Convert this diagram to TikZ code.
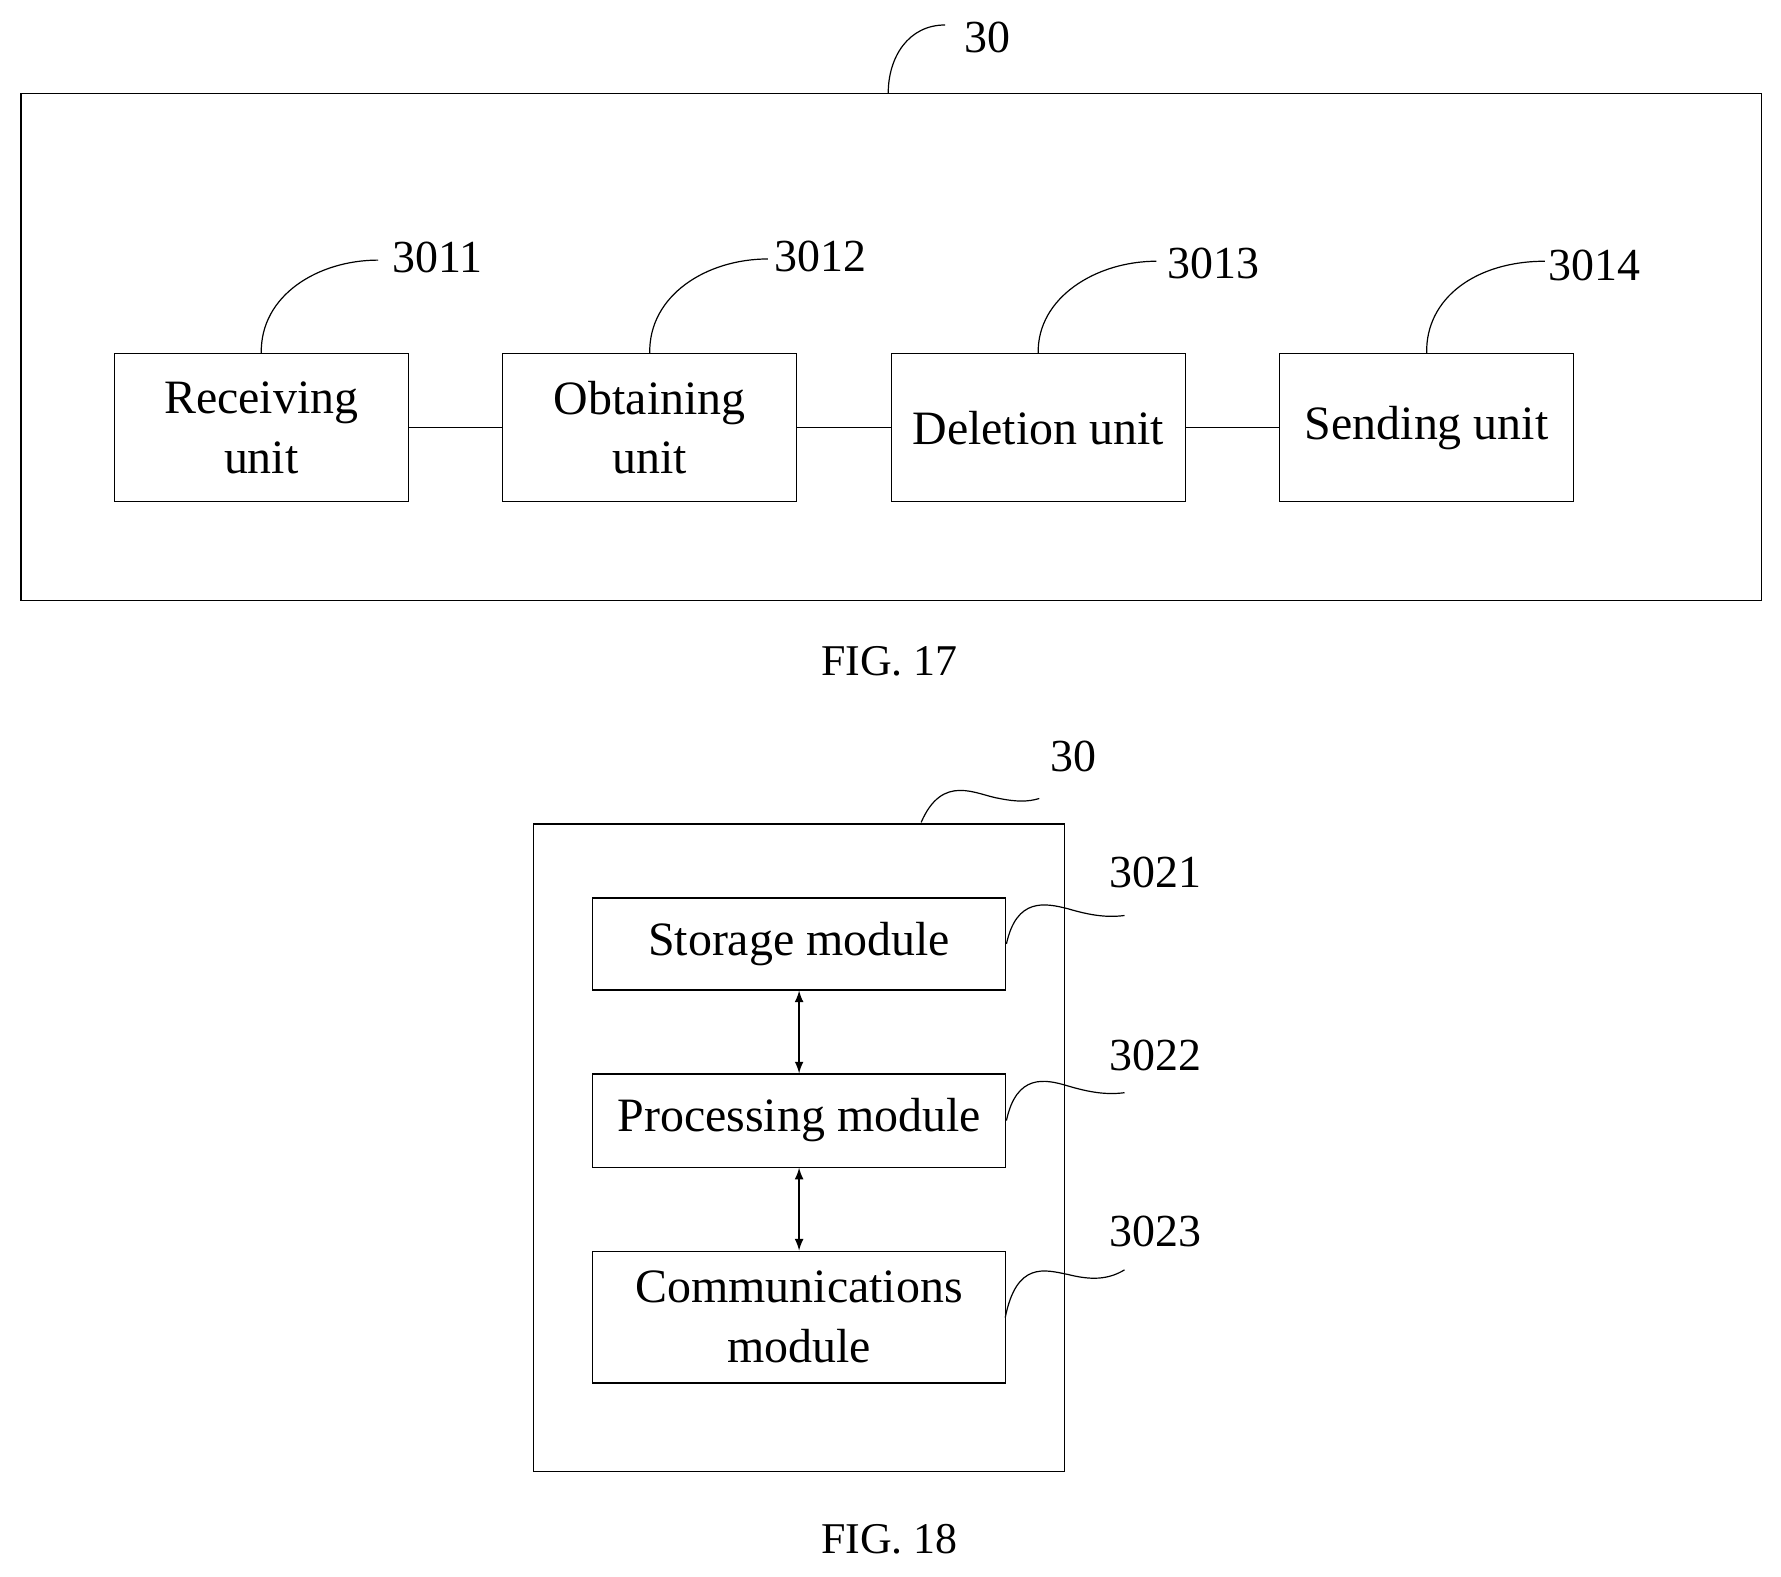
\documentclass[tikz,border=0pt]{standalone}
\usepackage{fontspec}
\setmainfont{Liberation Serif}
\begin{document}
\begin{tikzpicture}[x=0.02cm,y=-0.02cm,line width=0.6pt,
  box/.style={draw,anchor=north west,inner sep=0pt,align=center,font=\fontsize{24}{30}\selectfont},
  lab/.style={font=\fontsize{23}{28}\selectfont},
  figcap/.style={font=\fontsize{22}{26}\selectfont}]
\useasboundingbox (0,0) rectangle (1568,1388);
% FIG 17
\node[box,minimum width=1532*0.02cm,minimum height=446*0.02cm] (outer) at (18,82) {};
\node[lab] (l30) at (869,33) {30};
\coordinate (c30) at (832,22);
\draw (782,82) .. controls (782,50) and (800,22) .. (c30);
\foreach \n/\x/\t in {a/100/{Receiving\\unit}, b/442/{Obtaining\\unit}, c/784/{Deletion unit}, d/1126/{Sending unit}}{
  \node[box,minimum width=259*0.02cm,minimum height=130*0.02cm] (\n) at (\x,311) {};
  \node[font=\fontsize{24}{30}\selectfont,align=center] at (\n.center) {\t};
}
\node[lab] at (385,227) {3011};
\node[lab] at (722,226) {3012};
\node[lab] at (1068,232) {3013};
\node[lab] at (1404,234) {3014};
\draw (a.north) .. controls (229,260) and (280,229) .. (333,229);
\draw (b.north) .. controls (571,260) and (622,228) .. (676,228);
\draw (c.north) .. controls (913,262) and (965,230) .. (1018,230);
\draw (d.north) .. controls (1255,262) and (1300,230) .. (1360,230);
\draw (a.east) -- (b.west);
\draw (b.east) -- (c.west);
\draw (c.east) -- (d.west);
\node[figcap] (f17) at (783,582) {FIG. 17};
% FIG 18
\node[box,minimum width=468*0.02cm,minimum height=570*0.02cm] (o2) at (469,725) {};
\node[lab] at (945,666) {30};
\draw (811,724) .. controls (830,680) and (860,700) .. (880,703) .. controls (895,706) and (905,706) .. (915,703);
\node[box,minimum width=364*0.02cm,minimum height=81*0.02cm] (s) at (521,790) {Storage module};
\node[box,minimum width=364*0.02cm,minimum height=82*0.02cm] (p) at (521,945) {Processing module};
\node[box,minimum width=364*0.02cm,minimum height=116*0.02cm] (m) at (521,1101) {Communications\\module};
\draw[latex-latex,line width=1pt] (s.south) -- (p.north);
\draw[latex-latex,line width=1pt] (p.south) -- (m.north);
\node[lab] at (1017,768) {3021};
\node[lab] at (1017,929) {3022};
\node[lab] at (1017,1084) {3023};
\draw (s.east) .. controls (895,790) and (920,795) .. (940,800) .. controls (960,806) and (975,808) .. (990,806);
\draw (p.east) .. controls (895,945) and (920,950) .. (940,956) .. controls (960,962) and (975,964) .. (990,962);
\draw (885,1160) .. controls (895,1110) and (920,1118) .. (940,1122) .. controls (960,1127) and (975,1127) .. (990,1118);
\node[figcap] (f18) at (783,1355) {FIG. 18};
\end{tikzpicture}
\end{document}
